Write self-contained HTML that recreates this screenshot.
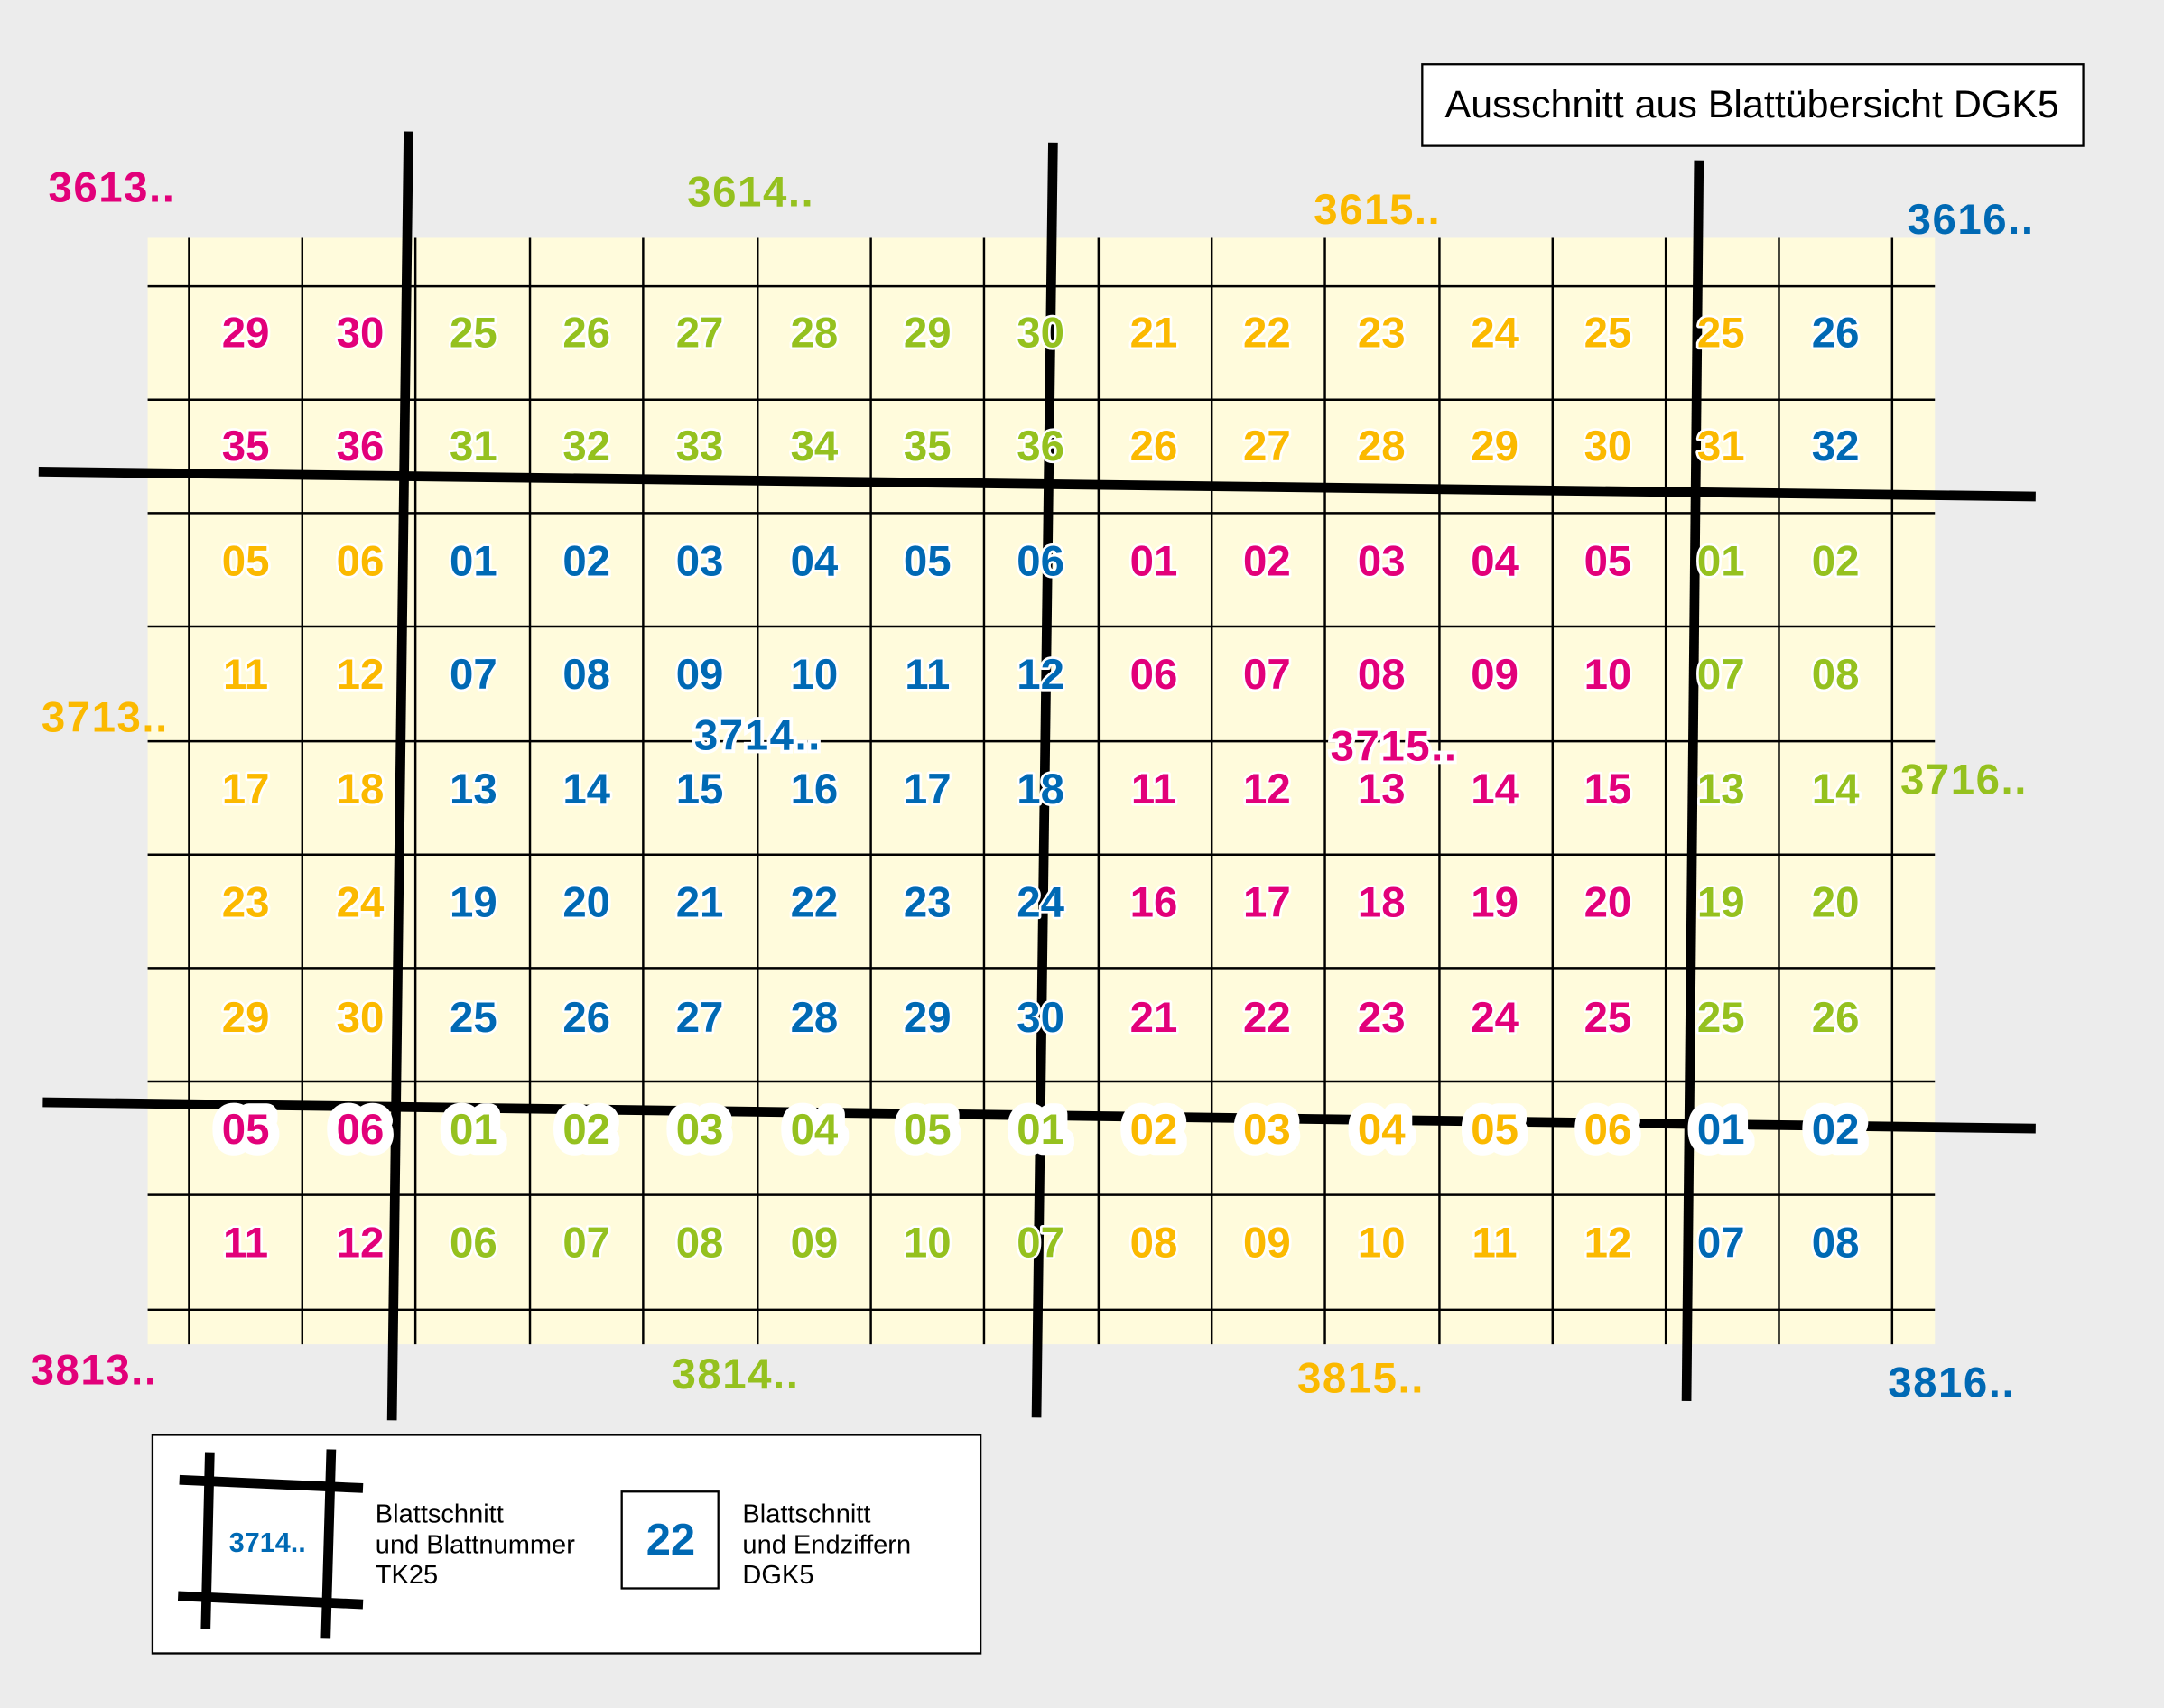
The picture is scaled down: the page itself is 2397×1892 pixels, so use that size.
<!DOCTYPE html>
<html><head><meta charset="utf-8"><style>
html,body{margin:0;padding:0;background:#ececec}
svg{display:block}
.n{font-family:"Liberation Sans Narrow","Liberation Sans",sans-serif;font-weight:bold;font-size:31px;text-anchor:middle;paint-order:stroke;stroke:#fff;stroke-width:3.5px;stroke-linejoin:round}
.r7{stroke-width:16px}
.l{font-family:"Liberation Sans Narrow","Liberation Sans",sans-serif;font-weight:bold;font-size:31px;letter-spacing:1px}
.t{font-family:"Liberation Sans Narrow","Liberation Sans",sans-serif;font-size:19px}
</style></head><body>
<svg width="2397" height="1892" viewBox="0 0 1568 1235" preserveAspectRatio="none" xmlns="http://www.w3.org/2000/svg">
<rect width="1568" height="1235" fill="#ececec"/>
<rect x="107" y="172" width="1295" height="800" fill="#fffbdc"/>
<g stroke="#000" stroke-width="1.6" id="grid"></g>
<g stroke="#000" stroke-width="7" fill="none">
<line x1="296" y1="95" x2="284" y2="1027"/>
<line x1="763" y1="103" x2="751" y2="1025"/>
<line x1="1231" y1="116" x2="1222" y2="1013"/>
<line x1="28" y1="341" x2="1475" y2="359"/>
<line x1="31" y1="797" x2="1475" y2="816"/>
</g>
<g id="nums"></g>
<g class="l">
<text x="35" y="146" fill="#e2007a">3613..</text>
<text x="498" y="149" fill="#95c11f">3614..</text>
<text x="952" y="162" fill="#fbb900">3615..</text>
<text x="1382" y="169" fill="#0069b4">3616..</text>
<text x="30" y="529" fill="#fbb900">3713..</text>
<text x="503" y="542" fill="#0069b4" style="paint-order:stroke;stroke:#fff;stroke-width:5px">3714..</text>
<text x="964" y="550" fill="#e2007a" style="paint-order:stroke;stroke:#fff;stroke-width:5px">3715..</text>
<text x="1377" y="574" fill="#95c11f">3716..</text>
<text x="22" y="1001" fill="#e2007a">3813..</text>
<text x="487" y="1004" fill="#95c11f">3814..</text>
<text x="940" y="1007" fill="#fbb900">3815..</text>
<text x="1368" y="1010" fill="#0069b4">3816..</text>
</g>
<rect x="1030.5" y="46.5" width="479" height="59" fill="#fff" stroke="#000" stroke-width="1.5"/>
<text x="1047" y="85" textLength="445" lengthAdjust="spacingAndGlyphs" style="font-family:'Liberation Sans Narrow','Liberation Sans',sans-serif;font-size:28px">Ausschnitt aus Blattübersicht DGK5</text>
<rect x="110.5" y="1037.5" width="600" height="158" fill="#fff" stroke="#000" stroke-width="1.5"/>
<g stroke="#000" stroke-width="7">
<line x1="152" y1="1050" x2="149" y2="1178"/>
<line x1="240" y1="1048" x2="236" y2="1185"/>
<line x1="130" y1="1070" x2="263" y2="1076"/>
<line x1="129" y1="1154" x2="263" y2="1160"/>
</g>
<text x="166" y="1122" fill="#0069b4" style="font-family:'Liberation Sans Narrow','Liberation Sans',sans-serif;font-weight:bold;font-size:20px">3714..</text>
<text class="t" x="272" y="1101">Blattschnitt</text>
<text class="t" x="272" y="1123">und Blattnummer</text>
<text class="t" x="272" y="1145">TK25</text>
<rect x="450.5" y="1078.5" width="70" height="70" fill="#fff" stroke="#000" stroke-width="1.5"/>
<text x="486" y="1124" text-anchor="middle" fill="#0069b4" style="font-family:'Liberation Sans Narrow','Liberation Sans',sans-serif;font-weight:bold;font-size:32px">22</text>
<text class="t" x="538" y="1101">Blattschnitt</text>
<text class="t" x="538" y="1123">und Endziffern</text>
<text class="t" x="538" y="1145">DGK5</text>
</svg>
<script>
var ns="http://www.w3.org/2000/svg",g=document.getElementById("grid"),N=document.getElementById("nums");
function ln(a,b,c,d){var l=document.createElementNS(ns,"line");l.setAttribute("x1",a);l.setAttribute("y1",b);l.setAttribute("x2",c);l.setAttribute("y2",d);g.appendChild(l);}
[137,219,301,384,466,549,631,713,796,878,960,1043,1125,1207,1289,1371].forEach(function(x){ln(x,172,x,972);});
[207,289,371,453,536,618,700,782,864,947].forEach(function(y){ln(107,y,1402,y);});
var rows=["29 30 25 26 27 28 29 30 21 22 23 24 25 25 26","35 36 31 32 33 34 35 36 26 27 28 29 30 31 32","05 06 01 02 03 04 05 06 01 02 03 04 05 01 02","11 12 07 08 09 10 11 12 06 07 08 09 10 07 08","17 18 13 14 15 16 17 18 11 12 13 14 15 13 14","23 24 19 20 21 22 23 24 16 17 18 19 20 19 20","29 30 25 26 27 28 29 30 21 22 23 24 25 25 26","05 06 01 02 03 04 05 01 02 03 04 05 06 01 02","11 12 06 07 08 09 10 07 08 09 10 11 12 07 08"];
var xs=[178,261,343,425,507,590,672,754,836,918,1001,1083,1165,1247,1330],ys=[251,333,416,498,581,663,746,827,909];
var M="#e2007a",G="#95c11f",O="#fbb900",B="#0069b4";
function col(r,c){var top=r<2,mid=r>=2&&r<=6;
if(c<2)return mid?O:M;if(c<8)return mid?B:G;if(c<13)return mid?M:O;
if(c==13)return top?O:(mid?G:B);return top?B:(mid?G:B);}
rows.forEach(function(s,r){s.split(" ").forEach(function(v,c){var t=document.createElementNS(ns,"text");t.setAttribute("x",xs[c]);t.setAttribute("y",ys[r]);t.setAttribute("class","n"+(r==7?" r7":""));t.setAttribute("fill",col(r,c));t.textContent=v;N.appendChild(t);});});
</script>
</body></html>
